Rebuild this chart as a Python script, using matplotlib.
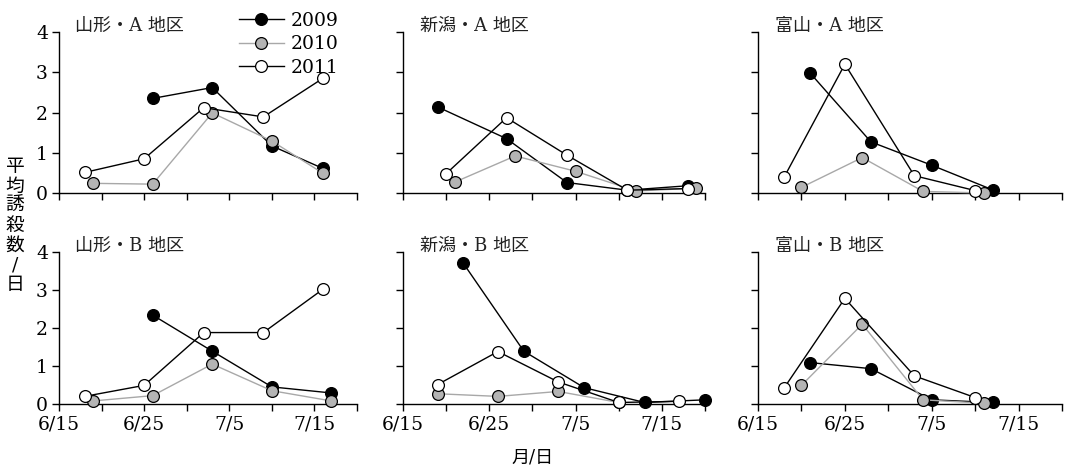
import matplotlib
matplotlib.use("Agg")
import matplotlib.pyplot as plt
from matplotlib.ticker import MultipleLocator

plt.rcParams['font.family'] = ['DejaVu Serif', 'Noto Sans CJK JP']

# data (dates as month/day, values = mean catch per day)
yamagata_a_09_dates = ["6/26", "7/3", "7/10", "7/16"]
yamagata_a_09 = [2.35, 2.62, 1.17, 0.61]
yamagata_a_10_dates = ["6/19", "6/26", "7/3", "7/10", "7/16"]
yamagata_a_10 = [0.24, 0.22, 1.99, 1.29, 0.49]
yamagata_a_11_dates = ["6/18", "6/25", "7/2", "7/9", "7/16"]
yamagata_a_11 = [0.51, 0.85, 2.12, 1.89, 2.85]

yamagata_b_09_dates = ["6/26", "7/3", "7/10", "7/17"]
yamagata_b_09 = [2.34, 1.39, 0.45, 0.29]
yamagata_b_10_dates = ["6/19", "6/26", "7/3", "7/10", "7/17"]
yamagata_b_10 = [0.08, 0.22, 1.05, 0.35, 0.08]
yamagata_b_11_dates = ["6/18", "6/25", "7/2", "7/9", "7/16"]
yamagata_b_11 = [0.20, 0.49, 1.88, 1.88, 3.02]

niigata_a_09_dates = ["6/19", "6/27", "7/4", "7/11", "7/18"]
niigata_a_09 = [2.14, 1.35, 0.26, 0.07, 0.18]
niigata_a_10_dates = ["6/21", "6/28", "7/5", "7/12", "7/19"]
niigata_a_10 = [0.27, 0.92, 0.54, 0.05, 0.12]
niigata_a_11_dates = ["6/20", "6/27", "7/4", "7/11", "7/18"]
niigata_a_11 = [0.48, 1.87, 0.94, 0.07, 0.11]

niigata_b_09_dates = ["6/22", "6/29", "7/6", "7/13", "7/20"]
niigata_b_09 = [3.70, 1.39, 0.43, 0.04, 0.11]
niigata_b_10_dates = ["6/19", "6/26", "7/3", "7/10"]
niigata_b_10 = [0.27, 0.20, 0.33, 0.04]
niigata_b_11_dates = ["6/19", "6/26", "7/3", "7/10", "7/17"]
niigata_b_11 = [0.51, 1.38, 0.58, 0.04, 0.07]

toyama_a_09_dates = ["6/21", "6/28", "7/5", "7/12"]
toyama_a_09 = [2.98, 1.27, 0.69, 0.08]
toyama_a_10_dates = ["6/20", "6/27", "7/4", "7/11"]
toyama_a_10 = [0.14, 0.88, 0.04, 0.00]
toyama_a_11_dates = ["6/18", "6/25", "7/3", "7/10"]
toyama_a_11 = [0.39, 3.20, 0.43, 0.06]

toyama_b_09_dates = ["6/21", "6/28", "7/5", "7/12"]
toyama_b_09 = [1.09, 0.93, 0.11, 0.04]
toyama_b_10_dates = ["6/20", "6/27", "7/4", "7/11"]
toyama_b_10 = [0.49, 2.10, 0.11, 0.02]
toyama_b_11_dates = ["6/18", "6/25", "7/3", "7/10"]
toyama_b_11 = [0.42, 2.78, 0.74, 0.17]

panel_titles = ["山形・A 地区", "新潟・A 地区", "富山・A 地区",
                "山形・B 地区", "新潟・B 地区", "富山・B 地区"]
years = ["2009", "2010", "2011"]
tick_labels = ["6/15", "6/25", "7/5", "7/15"]


def days(dates):
    # days after 6/15
    out = []
    for s in dates:
        m, d = s.split("/")
        out.append((int(d) - 15) if m == "6" else (int(d) + 15))
    return out


panels = [
    [(yamagata_a_09_dates, yamagata_a_09), (yamagata_a_10_dates, yamagata_a_10), (yamagata_a_11_dates, yamagata_a_11)],
    [(niigata_a_09_dates, niigata_a_09), (niigata_a_10_dates, niigata_a_10), (niigata_a_11_dates, niigata_a_11)],
    [(toyama_a_09_dates, toyama_a_09), (toyama_a_10_dates, toyama_a_10), (toyama_a_11_dates, toyama_a_11)],
    [(yamagata_b_09_dates, yamagata_b_09), (yamagata_b_10_dates, yamagata_b_10), (yamagata_b_11_dates, yamagata_b_11)],
    [(niigata_b_09_dates, niigata_b_09), (niigata_b_10_dates, niigata_b_10), (niigata_b_11_dates, niigata_b_11)],
    [(toyama_b_09_dates, toyama_b_09), (toyama_b_10_dates, toyama_b_10), (toyama_b_11_dates, toyama_b_11)],
]

styles = [
    dict(color="black", lw=1.0, mfc="black"),
    dict(color="#a8a8a8", lw=1.0, mfc="#b4b4b4"),
    dict(color="black", lw=1.0, mfc="white"),
]

W, H = 1066, 471
fig = plt.figure(figsize=(W / 100, H / 100), dpi=100)

col_left = [59, 403, 758]
col_width = [298, 302, 304]
row_bottom = [H - 193, H - 404]
row_height = [161, 152]

handles = []
for i, series in enumerate(panels):
    r, c = divmod(i, 3)
    ax = fig.add_axes([col_left[c] / W, row_bottom[r] / H, col_width[c] / W, row_height[r] / H])
    for j, (dates, vals) in enumerate(series):
        st = styles[j]
        ln, = ax.plot(days(dates), vals, color=st["color"], lw=st["lw"], marker="o",
                      ms=8.5, mfc=st["mfc"], mec="black", mew=0.9, clip_on=False,
                      zorder=3 + j, label=years[j])
        if i == 0:
            handles.append(ln)
    ax.set_xlim(0, 35)
    ax.set_ylim(0, 4)
    ax.spines["top"].set_visible(False)
    ax.spines["right"].set_visible(False)
    ax.spines["left"].set_linewidth(1.0)
    ax.spines["bottom"].set_linewidth(1.0)
    ax.xaxis.set_major_locator(MultipleLocator(10))
    ax.xaxis.set_minor_locator(MultipleLocator(5))
    ax.yaxis.set_major_locator(MultipleLocator(1))
    ax.tick_params(which="both", direction="out", length=5, width=1.0, labelsize=13.5, pad=3)
    if r == 1:
        ax.set_xticks([0, 10, 20, 30])
        ax.set_xticklabels(tick_labels)
    else:
        ax.set_xticklabels([])
    if c != 0:
        ax.set_yticklabels([])
    ax.text(0.055, 1.04, panel_titles[i], transform=ax.transAxes, fontsize=13,
            va="center", ha="left", color="#222222")

fig.legend(handles=handles, loc="upper left", bbox_to_anchor=(231 / W, 1 - 4 / H),
           frameon=False, fontsize=13.5, handlelength=2.4, handletextpad=0.4,
           labelspacing=0.3, borderaxespad=0)

fig.text(15 / W, 1 - 226 / H, "\n".join("平均誘殺数/日"), fontsize=13.5, ha="center",
         va="center", linespacing=1.12)
fig.text(533 / W, 1 - 458 / H, "月/日", fontsize=13, ha="center", va="center")

fig.savefig("out.png", dpi=100)
